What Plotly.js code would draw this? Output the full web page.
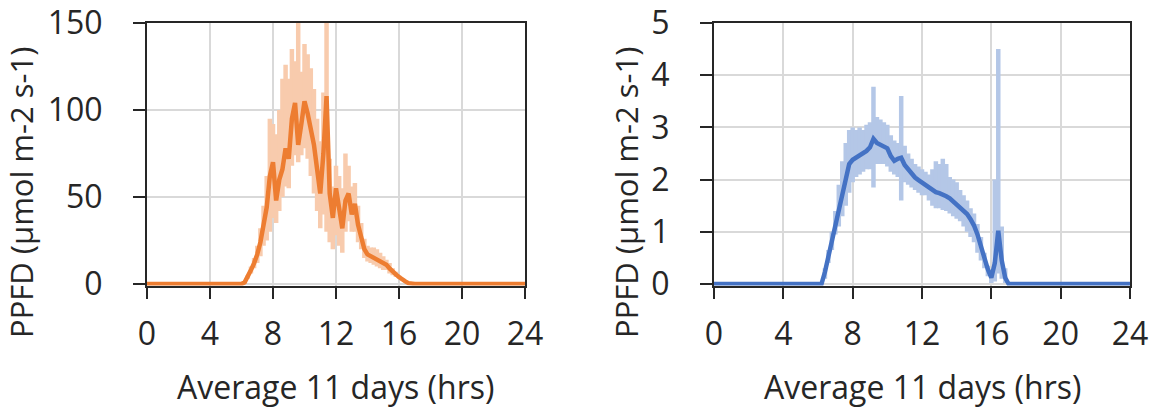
<!DOCTYPE html>
<html>
<head>
<meta charset="utf-8">
<script src="https://cdn.plot.ly/plotly-3.0.1.min.js"></script>
<style>html,body{margin:0;padding:0;background:#fff;}#chart{width:1155px;height:407px;}</style>
</head>
<body>
<div id="chart"></div>
<script>
// ---------- Left panel (orange) ----------
const hoursL = [0, 6.0, 6.2, 6.4, 6.6, 6.8, 7.0, 7.2, 7.4, 7.6, 7.8, 8.0, 8.2, 8.4, 8.6, 8.8, 9.0, 9.2, 9.4, 9.6, 9.8,
  10.0, 10.2, 10.4, 10.6, 10.8, 11.0, 11.2, 11.4, 11.6, 11.8, 12.0, 12.2, 12.4, 12.6, 12.8, 13.0, 13.2, 13.4, 13.6, 13.8,
  14.0, 14.2, 14.4, 14.6, 14.8, 15.0, 15.2, 15.4, 15.6, 15.8, 16.0, 16.2, 16.4, 16.6, 16.8, 17.0, 24];
const meanL = [0, 0, 1, 4, 8, 12, 17, 24, 33, 44, 62, 70, 48, 60, 66, 78, 72, 95, 104, 80, 92,
  105, 98, 90, 80, 66, 52, 75, 108, 52, 38, 55, 42, 32, 48, 52, 40, 46, 34, 27, 20,
  17, 16, 15, 14, 13, 12, 11, 9, 7, 5.5, 4, 2.5, 1.5, 0.5, 0, 0, 0];
const upperL = [0, 0, 1, 5, 10, 15, 22, 32, 45, 62, 95, 92, 86, 100, 118, 126, 118, 135, 128, 150, 122,
  138, 132, 124, 112, 95, 82, 110, 150, 72, 56, 68, 62, 55, 75, 68, 56, 58, 45, 35, 26,
  22, 21, 21, 20, 18, 16, 14, 12, 9, 7, 5, 3, 2, 1, 0, 0, 0];
const lowerL = [0, 0, 1, 3, 6, 9, 12, 16, 22, 25, 30, 38, 35, 42, 50, 56, 55, 68, 74, 70, 74,
  78, 72, 62, 52, 42, 32, 40, 30, 24, 20, 28, 22, 18, 30, 36, 30, 30, 24, 20, 15,
  13, 12, 11, 10, 9, 8, 8, 6, 5, 4, 3, 2, 1, 0, 0, 0, 0];

// ---------- Right panel (blue) ----------
const hoursR = [0, 6.2, 6.4, 6.6, 6.8, 7.0, 7.2, 7.4, 7.6, 7.8, 8.0, 8.2, 8.4, 8.6, 8.8, 9.0, 9.2, 9.4, 9.6, 9.8,
  10.0, 10.2, 10.4, 10.6, 10.8, 11.0, 11.2, 11.4, 11.6, 11.8, 12.0, 12.2, 12.4, 12.6, 12.8, 13.0, 13.2, 13.4, 13.6, 13.8,
  14.0, 14.2, 14.4, 14.6, 14.8, 15.0, 15.2, 15.4, 15.6, 15.8, 16.0, 16.2, 16.4, 16.6, 16.8, 17.0, 17.2, 24];
const meanR = [0, 0, 0.23, 0.54, 0.85, 1.16, 1.47, 1.78, 2.05, 2.3, 2.38, 2.42, 2.47, 2.5, 2.55, 2.62, 2.78, 2.7, 2.66, 2.64,
  2.6, 2.45, 2.36, 2.4, 2.42, 2.28, 2.2, 2.1, 2.04, 1.99, 1.94, 1.9, 1.86, 1.8, 1.76, 1.74, 1.72, 1.68, 1.64, 1.58,
  1.54, 1.48, 1.42, 1.34, 1.24, 1.12, 0.95, 0.75, 0.5, 0.28, 0.12, 0.4, 1.02, 0.45, 0.12, 0, 0, 0];
const upperR = [0, 0, 0.3, 0.65, 1.0, 1.4, 1.9, 2.35, 2.7, 2.95, 3.0, 2.95, 3.0, 2.95, 3.05, 3.1, 3.78, 3.2, 3.15, 3.1,
  3.05, 2.85, 2.75, 2.7, 3.6, 2.65, 2.5, 2.4, 2.3, 2.25, 2.2, 2.15, 2.1, 2.2, 2.35, 2.3, 2.4, 2.3, 2.05, 2.0,
  1.95, 1.8, 1.7, 1.6, 1.45, 1.35, 1.15, 0.9, 0.6, 0.35, 0.2, 2.0, 4.5, 1.1, 0.3, 0, 0, 0];
const lowerR = [0, 0, 0.1, 0.4, 0.65, 0.95, 1.1, 1.3, 1.5, 1.75, 1.95, 2.05, 2.1, 2.15, 2.2, 2.2, 1.85, 2.3, 2.3, 2.3,
  2.25, 2.15, 2.1, 2.05, 1.6, 1.95, 1.9, 1.85, 1.8, 1.75, 1.7, 1.7, 1.6, 1.5, 1.45, 1.45, 1.42, 1.4, 1.35, 1.3,
  1.25, 1.2, 1.1, 1.0, 0.9, 0.8, 0.6, 0.45, 0.3, 0.15, 0.02, 0.05, 0.2, 0.1, 0.02, 0, 0, 0];

const xTickVals = [0, 4, 8, 12, 16, 20, 24];
const yTickValsL = [0, 50, 100, 150];
const yTickValsR = [0, 1, 2, 3, 4, 5];
const xTitle = "Average 11 days (hrs)";
const yTitle = "PPFD (µmol m-2 s-1)";

const orange = "#ED7D31", orangeLight = "#F8CBAD";
const blue = "#4472C4", blueLight = "#B4C7E7";

function diff(a, b) { return a.map((v, i) => Math.max(0, v - b[i])); }

const traces = [
  { x: hoursL, y: meanL, xaxis: "x", yaxis: "y", type: "scatter", mode: "markers",
    marker: { size: 1, opacity: 0 }, hoverinfo: "skip",
    error_y: { type: "data", symmetric: false, array: diff(upperL, meanL), arrayminus: diff(meanL, lowerL),
      color: orangeLight, thickness: 4.5, width: 0 } },
  { x: hoursL, y: meanL, xaxis: "x", yaxis: "y", type: "scatter", mode: "lines",
    line: { color: orange, width: 4.5 } },
  { x: hoursR, y: meanR, xaxis: "x2", yaxis: "y2", type: "scatter", mode: "markers",
    marker: { size: 1, opacity: 0 }, hoverinfo: "skip",
    error_y: { type: "data", symmetric: false, array: diff(upperR, meanR), arrayminus: diff(meanR, lowerR),
      color: blueLight, thickness: 4.5, width: 0 } },
  { x: hoursR, y: meanR, xaxis: "x2", yaxis: "y2", type: "scatter", mode: "lines",
    line: { color: blue, width: 4.5 } }
];

const font = { family: "Open Sans, Noto Sans, sans-serif", size: 32, color: "#262626" };
const titleFontY = { family: "Open Sans, Noto Sans, sans-serif", size: 31, color: "#262626" };
const axisCommon = {
  showgrid: true, gridcolor: "#D9D9D9", gridwidth: 2,
  showline: true, linecolor: "#262626", linewidth: 2, mirror: true,
  ticks: "outside", tickcolor: "#262626", tickwidth: 2,
  zeroline: false, layer: "below traces", tickfont: font, fixedrange: true
};
const yDomain = [(407 - 285.57) / 407, (407 - 23) / 407];

const layout = {
  width: 1155, height: 407,
  margin: { l: 0, r: 0, t: 0, b: 0 },
  paper_bgcolor: "#ffffff", plot_bgcolor: "#ffffff",
  showlegend: false,
  font: font,
  xaxis: Object.assign({}, axisCommon, { domain: [147 / 1155, 525 / 1155], range: [0, 24],
    tickvals: xTickVals, ticklen: 11, ticklabelstandoff: 8, anchor: "y" }),
  yaxis: Object.assign({}, axisCommon, { domain: yDomain, range: [-0.9, 150],
    tickvals: yTickValsL, ticklen: 12, ticklabelstandoff: 24, anchor: "x" }),
  xaxis2: Object.assign({}, axisCommon, { domain: [714 / 1155, 1130 / 1155], range: [0, 24],
    tickvals: xTickVals, ticklen: 11, ticklabelstandoff: 8, anchor: "y2" }),
  yaxis2: Object.assign({}, axisCommon, { domain: yDomain, range: [-0.03, 5],
    tickvals: yTickValsR, ticklen: 12, ticklabelstandoff: 24, anchor: "x2" }),
  annotations: [
    { text: xTitle, xref: "paper", yref: "paper", x: 335 / 1155, y: 1 - 386 / 407,
      xanchor: "center", yanchor: "middle", showarrow: false, font: font },
    { text: xTitle, xref: "paper", yref: "paper", x: 922 / 1155, y: 1 - 386 / 407,
      xanchor: "center", yanchor: "middle", showarrow: false, font: font },
    { text: yTitle, xref: "paper", yref: "paper", x: 21 / 1155, y: 1 - 193 / 407, textangle: -90,
      xanchor: "center", yanchor: "middle", showarrow: false, font: titleFontY },
    { text: yTitle, xref: "paper", yref: "paper", x: 626 / 1155, y: 1 - 193 / 407, textangle: -90,
      xanchor: "center", yanchor: "middle", showarrow: false, font: titleFontY }
  ]
};

Plotly.newPlot("chart", traces, layout, { staticPlot: true, displayModeBar: false });
</script>
</body>
</html>
